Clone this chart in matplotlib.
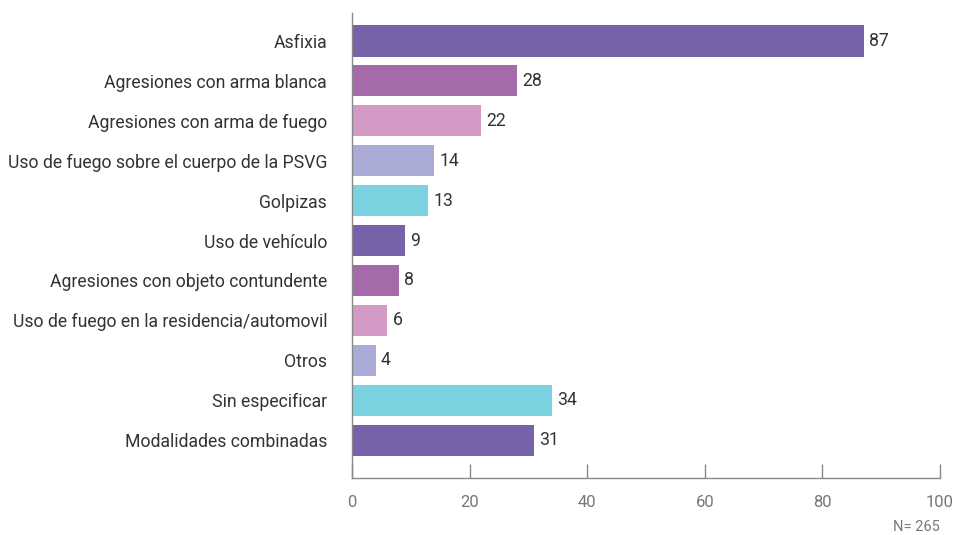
import matplotlib
matplotlib.use("Agg")
import matplotlib.pyplot as plt

categories = ["Asfixia", "Agresiones con arma blanca", "Agresiones con arma de fuego",
              "Uso de fuego sobre el cuerpo de la PSVG", "Golpizas", "Uso de vehículo",
              "Agresiones con objeto contundente", "Uso de fuego en la residencia/automovil",
              "Otros", "Sin especificar", "Modalidades combinadas"]
values = [87, 28, 22, 14, 13, 9, 8, 6, 4, 34, 31]
palette = ["#7761A8", "#A46AAA", "#D39AC6", "#AAAAD6", "#7BD3E2"]
xticks = [0, 20, 40, 60, 80, 100]
note = "N= 265"

plt.rcParams['font.family'] = ['Roboto', 'DejaVu Sans']

fig = plt.figure(figsize=(9.55, 5.35), dpi=100)
ax = fig.add_axes([352/955, 1-478/535, (940-352)/955, (478-13)/535])

ypos = list(range(len(categories)))
colors = [palette[i % len(palette)] for i in ypos]
bars = ax.barh(ypos, values, height=0.78, color=colors)
ax.set_ylim(len(categories) - 1 + 0.95, -0.7)
ax.set_xlim(0, 100)
ax.set_yticks(ypos)
ax.set_yticklabels(categories, fontsize=12.7, color="#333333")
ax.tick_params(axis='y', length=0, pad=18)
ax.set_xticks(xticks)
ax.set_xticklabels([str(t) for t in xticks], fontsize=12, color="#777777")
ax.tick_params(axis='x', direction='in', length=10, width=1, color="#888888", pad=12)
for s in ["top", "right"]:
    ax.spines[s].set_visible(False)
for s in ["left", "bottom"]:
    ax.spines[s].set_color("#888888")
    ax.spines[s].set_linewidth(1)

for y, v in zip(ypos, values):
    ax.text(v + 0.9, y, str(v), va='center', ha='left', fontsize=12.7, color="#333333")

fig.text(940/955, 1-527/535, note, ha='right', va='center', fontsize=10.5, color="#777777")

fig.savefig("out.png", dpi=100)
